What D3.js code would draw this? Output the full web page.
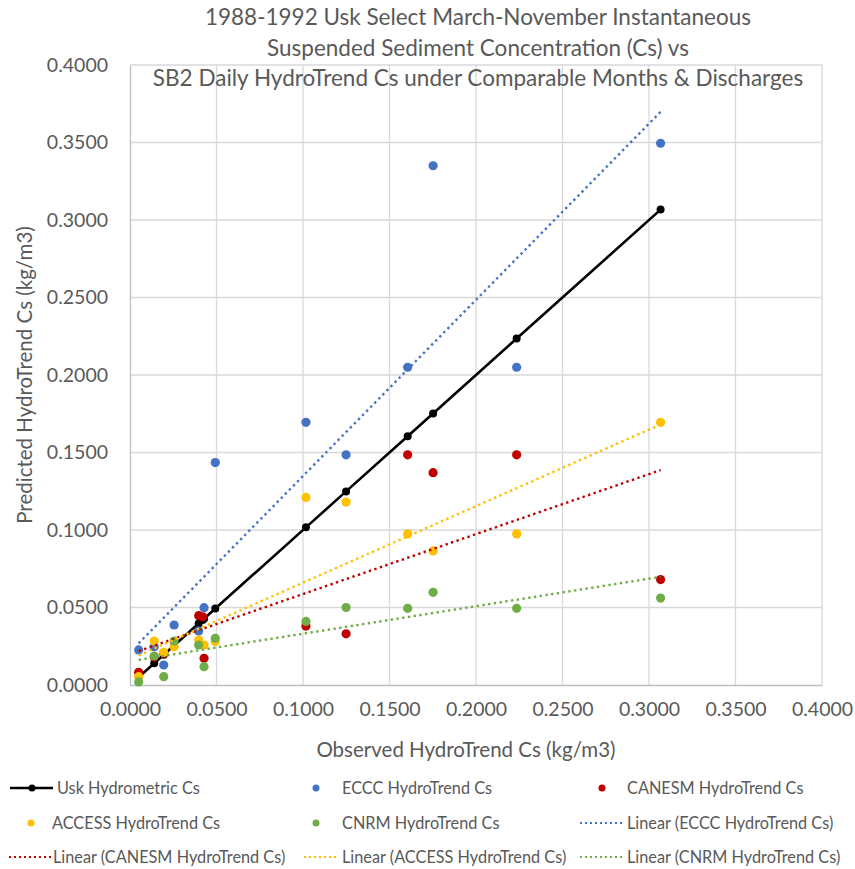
<!DOCTYPE html>
<html>
<head>
<meta charset="utf-8">
<script src="https://cdn.jsdelivr.net/npm/d3@7"></script>
<style>
  html, body { margin: 0; padding: 0; background: #fff; }
  svg { display: block; font-family: Lato, "Open Sans", sans-serif; }
</style>
</head>
<body>
<div id="chart"></div>
<script>
// ---------------- DATA ----------------
const titleLines = [
  "1988-1992 Usk Select March-November Instantaneous",
  "Suspended Sediment Concentration (Cs) vs",
  "SB2 Daily HydroTrend Cs under Comparable Months & Discharges"
];
const xAxisTitle = "Observed HydroTrend Cs (kg/m3)";
const yAxisTitle = "Predicted HydroTrend Cs (kg/m3)";
const tickValues = [0, 0.05, 0.10, 0.15, 0.20, 0.25, 0.30, 0.35, 0.40];

// observed Usk Cs (x values shared by all series)
const observedCs = [0.0050, 0.0140, 0.0195, 0.0255, 0.0397, 0.0420, 0.0428, 0.0493, 0.1017, 0.1249, 0.1605, 0.1752, 0.2235, 0.3067];
const uskCs      = [0.0050, 0.0140, 0.0195, 0.0255, 0.0397, 0.0420, 0.0428, 0.0493, 0.1017, 0.1249, 0.1605, 0.1752, 0.2235, 0.3067];
const ecccCs     = [0.0226, 0.0247, 0.0129, 0.0387, 0.0348, null, 0.0499, 0.1435, 0.1695, 0.1485, 0.2050, 0.3350, 0.2050, 0.3495];
const canesmCs   = [0.0082, 0.0180, 0.0205, null, 0.0447, 0.0440, 0.0172, null, 0.0380, 0.0330, 0.1485, 0.1370, 0.1485, 0.0680];
const accessCs   = [0.0054, 0.0284, 0.0210, 0.0247, 0.0290, null, 0.0258, 0.0280, 0.1210, 0.1180, 0.0975, 0.0865, 0.0975, 0.1695];
const cnrmCs     = [0.0020, 0.0187, 0.0054, 0.0284, 0.0258, null, 0.0118, 0.0301, 0.0410, 0.0500, 0.0495, 0.0598, 0.0495, 0.0561];

const seriesNames  = ["Usk Hydrometric Cs", "ECCC HydroTrend Cs", "CANESM HydroTrend Cs", "ACCESS HydroTrend Cs", "CNRM HydroTrend Cs"];
const seriesColors = ["#000000", "#4472C4", "#C00000", "#FFC000", "#70AD47"];

// ---------------- LAYOUT ----------------
const W = 855, H = 869;
const plot = { left: 130, right: 822, top: 65, bottom: 685 };
const textColor = "#595959";

const svg = d3.select("#chart").append("svg").attr("width", W).attr("height", H);

const x = d3.scaleLinear().domain([0, 0.4]).range([plot.left, plot.right]);
const y = d3.scaleLinear().domain([0, 0.4]).range([plot.bottom, plot.top]);

// gridlines
const grid = svg.append("g");
grid.selectAll("line.h").data(tickValues.slice(1)).join("line")
  .attr("x1", plot.left).attr("x2", plot.right)
  .attr("y1", d => y(d)).attr("y2", d => y(d))
  .attr("stroke", "#D9D9D9").attr("stroke-width", 1.3);
grid.selectAll("line.v").data(tickValues.slice(1)).join("line")
  .attr("y1", plot.top).attr("y2", plot.bottom)
  .attr("x1", d => x(d)).attr("x2", d => x(d))
  .attr("stroke", "#D9D9D9").attr("stroke-width", 1.3);

// axes
const fmt = d3.format(".4f");
const xAxis = svg.append("g").attr("transform", `translate(0,${plot.bottom})`)
  .call(d3.axisBottom(x).tickValues(tickValues).tickFormat(fmt).tickSize(0).tickPadding(25));
const yAxis = svg.append("g").attr("transform", `translate(${plot.left},0)`)
  .call(d3.axisLeft(y).tickValues(tickValues).tickFormat(fmt).tickSize(0).tickPadding(22));
[xAxis, yAxis].forEach(a => {
  a.select(".domain").attr("stroke", "#BFBFBF").attr("stroke-width", 1.3);
  a.selectAll("text").attr("fill", textColor).style("font-size", "19.5px").style("font-family", "Lato, sans-serif");
});
xAxis.selectAll("text").attr("dy", "0.3em");

// title
svg.append("g").selectAll("text").data(titleLines).join("text")
  .attr("x", 478).attr("y", (d, i) => 25 + i * 30.5)
  .attr("text-anchor", "middle").attr("fill", textColor)
  .style("font-size", "22.5px").style("font-weight", 400)
  .text(d => d);

// axis titles
svg.append("text").attr("x", 466).attr("y", 757).attr("text-anchor", "middle")
  .attr("fill", textColor).style("font-size", "20.5px").text(xAxisTitle);
svg.append("text").attr("transform", `translate(32,${(plot.top + plot.bottom) / 2}) rotate(-90)`)
  .attr("text-anchor", "middle").attr("fill", textColor).style("font-size", "20.5px").text(yAxisTitle);

// series
const allSeries = [uskCs, ecccCs, canesmCs, accessCs, cnrmCs].map((vals, i) => ({
  name: seriesNames[i], color: seriesColors[i],
  pts: observedCs.map((xv, j) => ({ x: xv, y: vals[j] })).filter(p => p.y !== null)
}));

// Usk line
const line = d3.line().x(d => x(d.x)).y(d => y(d.y));
svg.append("path").datum(allSeries[0].pts).attr("d", line)
  .attr("fill", "none").attr("stroke", "#000").attr("stroke-width", 2.6);
svg.append("g").selectAll("circle").data(allSeries[0].pts).join("circle")
  .attr("cx", d => x(d.x)).attr("cy", d => y(d.y)).attr("r", 4).attr("fill", "#000");

// scatter series
allSeries.slice(1).forEach(s => {
  svg.append("g").selectAll("circle").data(s.pts).join("circle")
    .attr("cx", d => x(d.x)).attr("cy", d => y(d.y)).attr("r", 4.6).attr("fill", s.color);
});

// linear trendlines (least squares)
function linReg(pts) {
  const mx = d3.mean(pts, p => p.x), my = d3.mean(pts, p => p.y);
  const sxy = d3.sum(pts, p => (p.x - mx) * (p.y - my));
  const sxx = d3.sum(pts, p => (p.x - mx) ** 2);
  const m = sxy / sxx;
  return { m, b: my - m * mx };
}
[1, 2, 3, 4].forEach(i => {
  const s = allSeries[i];
  const r = linReg(s.pts);
  const [x0, x1] = d3.extent(s.pts, p => p.x);
  svg.append("line")
    .attr("x1", x(x0)).attr("y1", y(r.m * x0 + r.b))
    .attr("x2", x(x1)).attr("y2", y(r.m * x1 + r.b))
    .attr("stroke", s.color).attr("stroke-width", 2.4)
    .attr("stroke-dasharray", "2.4,3.4");
});

// legend
const legendEntries = [
  { label: "Usk Hydrometric Cs", type: "lineMarker", color: seriesColors[0] },
  { label: "ECCC HydroTrend Cs", type: "dot", color: seriesColors[1] },
  { label: "CANESM HydroTrend Cs", type: "dot", color: seriesColors[2] },
  { label: "ACCESS HydroTrend Cs", type: "dot", color: seriesColors[3] },
  { label: "CNRM HydroTrend Cs", type: "dot", color: seriesColors[4] },
  { label: "Linear (ECCC HydroTrend Cs)", type: "dotted", color: seriesColors[1] },
  { label: "Linear (CANESM HydroTrend Cs)", type: "dotted", color: seriesColors[2] },
  { label: "Linear (ACCESS HydroTrend Cs)", type: "dotted", color: seriesColors[3] },
  { label: "Linear (CNRM HydroTrend Cs)", type: "dotted", color: seriesColors[4] }
];
const rowY = [788, 823, 857];
const colText = [[57, 342, 627], [52, 342, 627], [53, 342, 627]];
const colDot = [31, 316, 602];
const colLine = [[9, 51], [304, 339], [580, 624]];

const lg = svg.append("g");
legendEntries.forEach((e, k) => {
  const r = Math.floor(k / 3), c = k % 3;
  const cy = rowY[r];
  const g = lg.append("g");
  if (e.type === "lineMarker") {
    g.append("line").attr("x1", 10).attr("x2", 53).attr("y1", cy).attr("y2", cy)
      .attr("stroke", e.color).attr("stroke-width", 2.6);
    g.append("circle").attr("cx", 32).attr("cy", cy).attr("r", 3.5).attr("fill", e.color);
  } else if (e.type === "dot") {
    g.append("circle").attr("cx", colDot[c]).attr("cy", cy).attr("r", 3.5).attr("fill", e.color);
  } else {
    g.append("line").attr("x1", colLine[c][0]).attr("x2", colLine[c][1]).attr("y1", cy).attr("y2", cy)
      .attr("stroke", e.color).attr("stroke-width", 2).attr("stroke-dasharray", "2,3");
  }
  g.append("text").attr("x", colText[r][c]).attr("y", cy).attr("dy", "0.35em")
    .attr("fill", textColor).style("font-size", "16.3px").text(e.label);
});
</script>
</body>
</html>
